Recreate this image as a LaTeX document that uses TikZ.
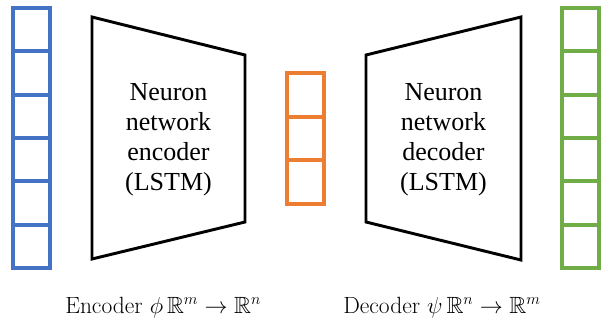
\documentclass[tikz,border=0pt]{standalone}
\usepackage{fontspec}
\usepackage{amssymb}
\newfontfamily\netfont{Liberation Serif}
\definecolor{inblue}{HTML}{4472C4}
\definecolor{codeorange}{HTML}{ED7D31}
\definecolor{outgreen}{HTML}{70AD47}

\tikzset{
  vcell/.style={line width=2.3pt},
  net/.style={draw=black, line width=2.2pt, line join=miter},
  nettext/.style={align=center, font=\netfont\fontsize{19.5}{22.5}\selectfont},
  maptext/.style={anchor=base west, inner sep=0pt, font=\fontsize{17.6}{20}\selectfont}
}

\begin{document}
\begin{tikzpicture}[x=0.75pt, y=-0.75pt]
  \useasboundingbox (0,0) rectangle (601,322);

  % input vector
  \draw[vcell, draw=inblue] (13,8) rectangle (50,268);
  \foreach \y in {51,95,138,181,225}
    \draw[vcell, draw=inblue] (13,\y) -- (50,\y);

  % encoder
  \draw[net] (92,17) -- (245,55) -- (245,222) -- (92,259) -- cycle;
  \node[nettext] (enc) at (168.5,140) {Neuron\\network\\encoder\\(LSTM)};

  % latent code
  \draw[vcell, draw=codeorange] (287,73) rectangle (324,204);
  \foreach \y in {117,160}
    \draw[vcell, draw=codeorange] (287,\y) -- (324,\y);

  % decoder
  \draw[net] (366,55) -- (521,17) -- (521,260) -- (366,222) -- cycle;
  \node[nettext] (dec) at (443.5,140) {Neuron\\network\\decoder\\(LSTM)};

  % output vector
  \draw[vcell, draw=outgreen] (562,8) rectangle (599,268);
  \foreach \y in {51,95,138,181,225}
    \draw[vcell, draw=outgreen] (562,\y) -- (599,\y);

  \node[maptext] (encmap) at (65,313) {Encoder $\phi\,\mathbb{R}^m\rightarrow\mathbb{R}^n$};
  \node[maptext] (decmap) at (343,313) {Decoder $\psi\,\mathbb{R}^n\rightarrow\mathbb{R}^m$};
\end{tikzpicture}
\end{document}
